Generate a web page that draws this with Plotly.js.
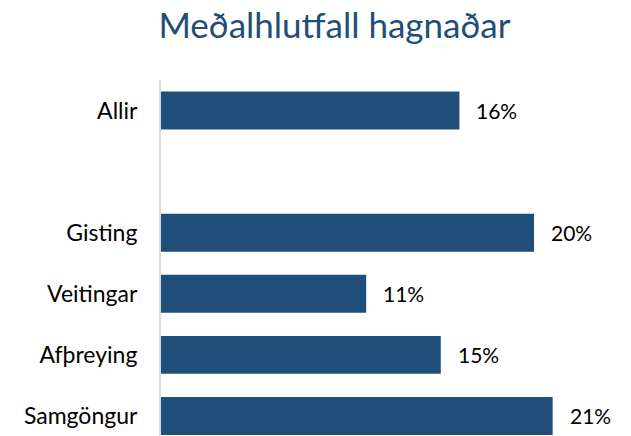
<!DOCTYPE html>
<html>
<head>
<meta charset="utf-8">
<script src="https://cdn.plot.ly/plotly-3.0.1.min.js"></script>
<style>html,body{margin:0;padding:0;background:#fff;}#chart{width:631px;height:436px;}</style>
</head>
<body>
<div id="chart"></div>
<script>
var categories = ['Allir', ' ', 'Gisting', 'Veitingar', 'Afþreying', 'Samgöngur'];
var values = [0.16, null, 0.20, 0.11, 0.15, 0.21];
var labels = ['16%', '', '20%', '11%', '15%', '21%'];

var FONT = 'Lato, "Open Sans", sans-serif';

var annotations = [];
for (var i = 0; i < categories.length; i++) {
  if (values[i] === null) continue;
  annotations.push({
    x: values[i], y: categories[i], xref: 'x', yref: 'y',
    text: labels[i], showarrow: false, xanchor: 'left', yanchor: 'middle',
    xshift: 15, font: {family: FONT, size: 21, color: '#000'}
  });
}

var trace = {
  type: 'bar', orientation: 'h',
  x: values, y: categories,
  marker: {color: '#1F4E79'},
  width: 0.62,
  hoverinfo: 'none'
};

var layout = {
  width: 631, height: 436,
  margin: {l: 161, r: 0, t: 80, b: 0},
  paper_bgcolor: '#fff', plot_bgcolor: '#fff',
  showlegend: false,
  title: {text: 'Meðalhlutfall hagnaðar', font: {family: FONT, size: 35, color: '#1F4E79'},
          x: 0.53, xanchor: 'center', y: 0.94, yanchor: 'middle'},
  xaxis: {range: [0, 0.252], showgrid: false, zeroline: false, showticklabels: false, showline: false, fixedrange: true},
  yaxis: {type: 'category', range: [5.328, -0.5], showgrid: false, zeroline: false,
          showline: true, linecolor: '#d9d9d9', linewidth: 2,
          ticks: '', ticklabelstandoff: 17,
          tickfont: {family: FONT, size: 23, color: '#000'}},
  annotations: annotations
};

Plotly.newPlot('chart', [trace], layout, {staticPlot: true, displayModeBar: false});
</script>
</body>
</html>
